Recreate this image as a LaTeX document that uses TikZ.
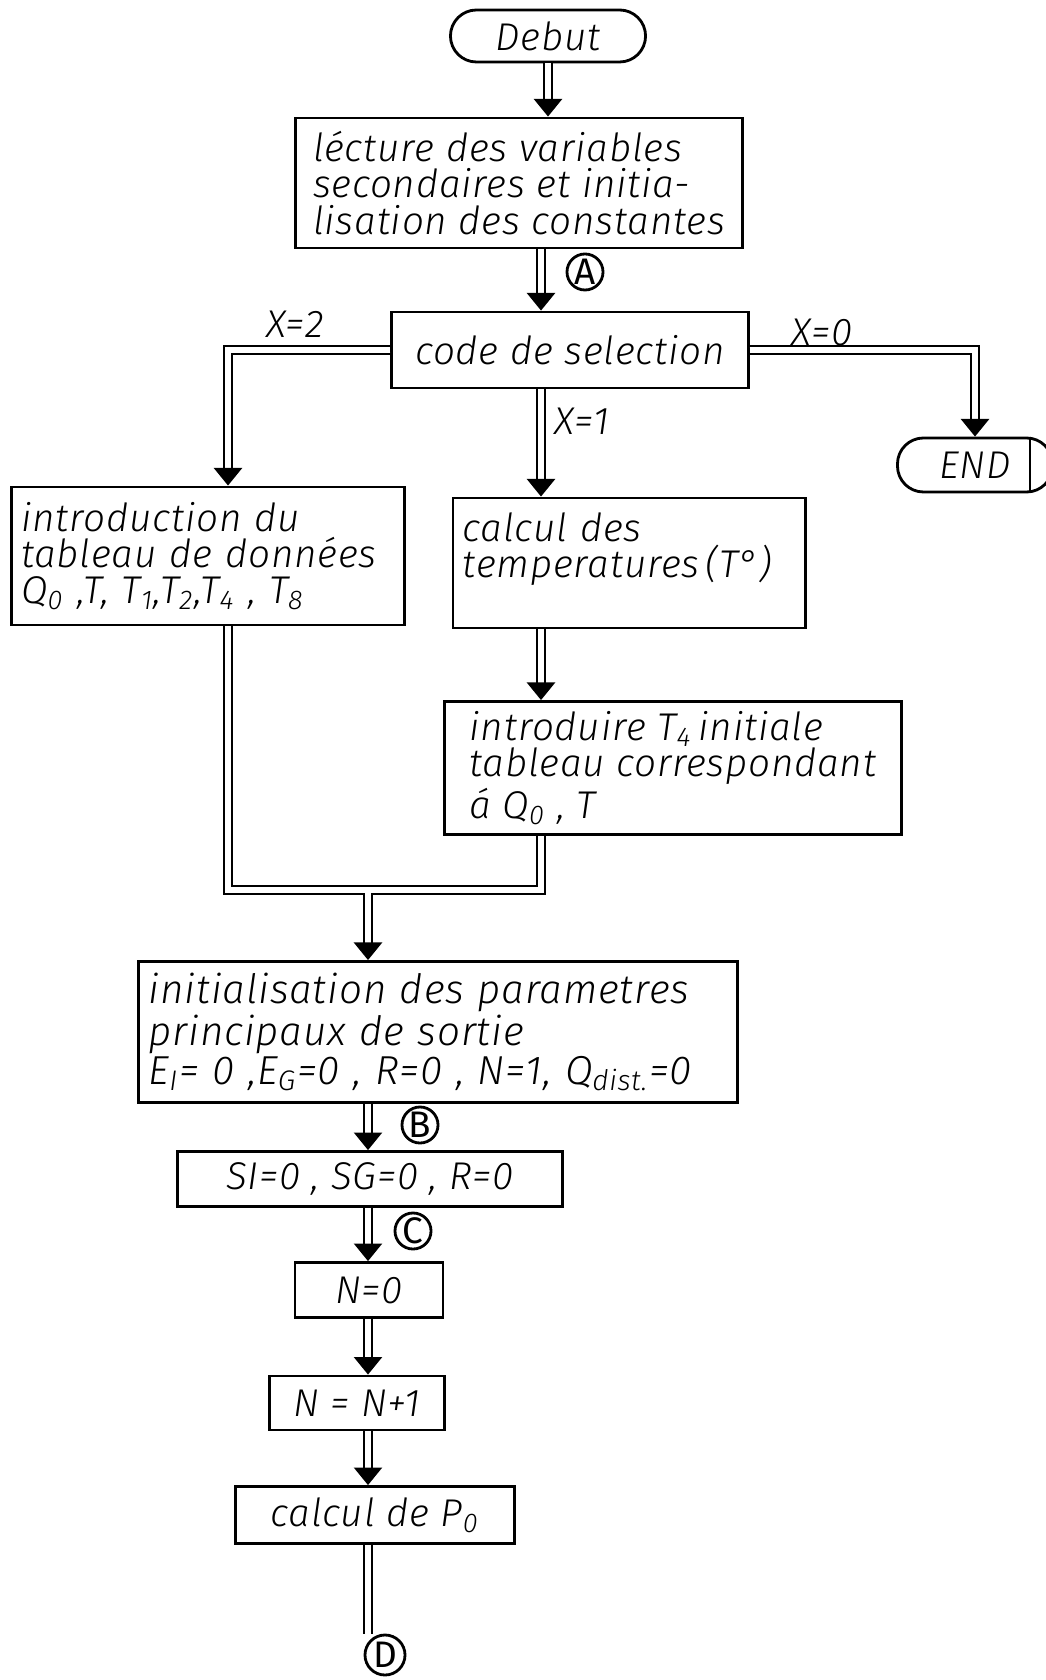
\documentclass[tikz,border=0pt]{standalone}
\usepackage{fontspec}
\setmainfont{Fira Sans Light}[ItalicFont={Fira Sans Light Italic},BoldFont={Fira Sans},LetterSpace=2]
\usetikzlibrary{positioning,arrows.meta,calc}

\begin{document}
\begin{tikzpicture}[x=0.01cm,y=-0.01cm,
  box/.style={draw,line width=0.8pt,inner xsep=0.6mm,inner ysep=0pt,align=left,font=\itshape\fontsize{11}{10.3}\selectfont},
  term/.style={box,rounded corners=2.6mm,align=center},
  flow/.style={double,double distance=1.7pt,line width=0.6pt,-{Triangle[width=8pt,length=5pt]}},
  pipe/.style={double,double distance=1.7pt,line width=0.6pt},
  conn/.style={draw,circle,line width=0.8pt,inner sep=0pt,minimum size=3.6mm,font=\bfseries\fontsize{10.5}{10.5}\selectfont},
  lbl/.style={font=\itshape\fontsize{11}{11}\selectfont}]
  \useasboundingbox (0,0) rectangle (1045,1680);
  \coordinate (axis) at (541,0); \coordinate (low) at (368,0); \coordinate (leftx) at (228,0); \coordinate (join) at (368,890);
  \node[term,minimum width=1.95cm,minimum height=0.52cm] (debut) at (548,36) {Debut};
  \node[box,minimum width=4.46cm,minimum height=1.3cm] (lecture) at (519,183) {lécture des variables\\secondaires et initia-\\lisation des constantes};
  \node[box,align=center,minimum width=3.56cm,minimum height=0.76cm] (code) at (570,350) {code de selection};
  \node[term,minimum width=1.55cm,minimum height=0.54cm] (endn) at (975,465) {END};
  \draw[line width=0.8pt] ([xshift=5.5mm]endn.north) -- ([xshift=5.5mm]endn.south);
  \node[box,inner xsep=1mm,text width=3.73cm,minimum width=3.93cm,minimum height=1.38cm] (intro) at (208,556) {introduction du\\tableau de données\\Q\textsubscript{0} ,T, T\textsubscript{1},T\textsubscript{2},T\textsubscript{4} , T\textsubscript{8}};
  \node[box,inner xsep=1mm,text width=3.32cm,minimum width=3.52cm,minimum height=1.3cm] (calc) at (629,563) {calcul des\\temperatures\,(T°)\\~};
  \node[box,minimum width=4.56cm,minimum height=1.33cm] (introd) at (673,768) {introduire T\textsubscript{4}\,initiale\\tableau correspondant\\á Q\textsubscript{0} , T};
  \node[box,inner xsep=1mm,text width=5.78cm,minimum width=5.98cm,minimum height=1.41cm,font=\itshape\fontsize{11.5}{11}\selectfont] (init) at (438,1032) {initialisation des parametres\\principaux de sortie\\E\textsubscript{I}= 0 ,E\textsubscript{G}=0 , R=0 , N=1, Q\textsubscript{dist.}=0};
  \node[box,align=center,minimum width=3.85cm,minimum height=0.55cm] (si) at (370,1179) {SI=0 , SG=0 , R=0};
  \node[box,align=center,minimum width=1.48cm,minimum height=0.55cm] (nzero) at (369,1290) {N=0};
  \node[box,align=center,minimum width=1.75cm,minimum height=0.54cm] (ninc) at (357,1403) {N = N+1};
  \node[box,align=center,minimum width=2.79cm,minimum height=0.57cm] (pzero) at (375,1515) {calcul de P\textsubscript{0}};
  \node[conn] (ca) at (585,272) {A}; \node[conn] (cb) at (420,1125) {B};
  \node[conn] (cc) at (413,1231) {C}; \node[conn,minimum size=4mm] (cd) at (385,1655) {D};
  \node[lbl] (xtwo) at (295,324) {X=2}; \node[lbl] (xzero) at (822,332) {X=0}; \node[lbl] (xone) at (582,421) {X=1};
  \draw[flow] (debut) -- (debut |- lecture.north);
  \draw[flow] (lecture.south -| axis) -- (code.north -| axis);
  \draw[flow] (code.west) -| (leftx |- intro.north);
  \draw[flow] (code.east) -| (endn.north);
  \draw[flow] (code.south -| axis) -- (calc.north -| axis);
  \draw[flow] (calc.south -| axis) -- (introd.north -| axis);
  \draw[flow] (intro.south -| leftx) -- (leftx |- join) -- (axis |- join) -- (introd.south -| axis) (join) -- (init.north -| join);
  \draw[flow] (init.south -| low) -- (si.north -| low);
  \draw[flow] (si.south -| low) -- (nzero.north -| low);
  \draw[flow] (nzero.south -| low) -- (ninc.north -| low);
  \draw[flow] (ninc.south -| low) -- (pzero.north -| low);
  \draw[pipe] (pzero.south -| low) -- (low |- cd.north);
\end{tikzpicture}
\end{document}
